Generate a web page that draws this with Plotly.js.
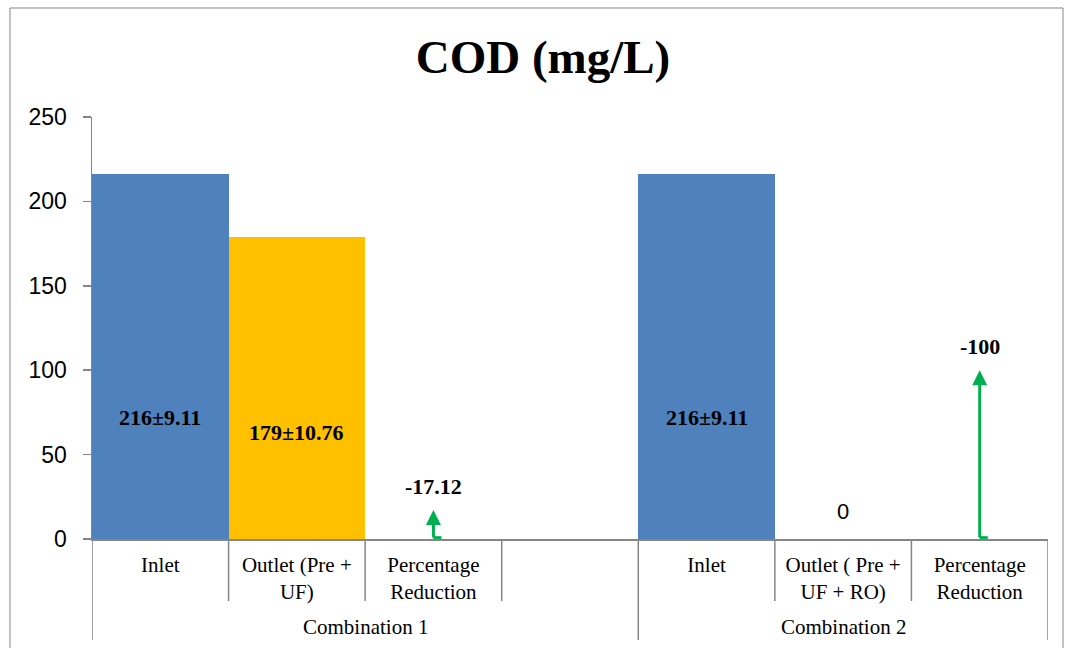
<!DOCTYPE html>
<html>
<head>
<meta charset="utf-8">
<script src="https://cdn.plot.ly/plotly-3.0.1.min.js"></script>
<style>
html,body{margin:0;padding:0;background:#fff;}
#chart{width:1074px;height:648px;}
</style>
</head>
<body>
<div id="chart"></div>
<script>
// ---- data ----
const groups = ["Combination 1", "Combination 2"];
const subcats = [
  ["Inlet", "Outlet (Pre +<br>UF)", "Percentage<br>Reduction", ""],
  ["Inlet", "Outlet ( Pre +<br>UF + RO)", "Percentage<br>Reduction"]
];
const inletValues = [216, 216];
const outletValues = [179, 0];
const reductionValues = [17.12, 100];
const inletLabels = ["216±9.11", "216±9.11"];
const outletLabels = ["179±10.76", "0"];
const reductionLabels = ["-17.12", "-100"];
const inletLabelY = [72, 72];
const outletLabelY = [63, 16];
const yTicks = [0, 50, 100, 150, 200, 250];

// ---- positions ----
const tickvals = [], ticktext = [], groupStart = [];
let idx = 0;
subcats.forEach((g) => { groupStart.push(idx); g.forEach(c => { tickvals.push(idx); ticktext.push(c); idx++; }); });
const nCats = idx;
const inletX = groupStart.map(s => s);
const outletX = groupStart.map(s => s + 1);
const reductionX = groupStart.map(s => s + 2);

const BLUE = "#4F81BD", ORANGE = "#FFC000", GREEN = "#00B050", GREY = "#868686";
const serif = "Liberation Serif, Times New Roman, serif";
const sans = "Liberation Sans, Arial, sans-serif";

const traces = [
  {type: "bar", x: inletX, y: inletValues, width: 1, marker: {color: BLUE}, hoverinfo: "skip"},
  {type: "bar", x: outletX, y: outletValues, width: 1, marker: {color: ORANGE}, hoverinfo: "skip"}
];

const annotations = [];
inletX.forEach((x, i) => annotations.push({x: x, y: inletLabelY[i], xref: "x", yref: "y", text: "<b>" + inletLabels[i] + "</b>", showarrow: false, font: {family: serif, size: 22, color: "#000"}}));
outletX.forEach((x, i) => {
  const zero = outletValues[i] === 0;
  annotations.push({x: x, y: outletLabelY[i], xref: "x", yref: "y", text: zero ? outletLabels[i] : "<b>" + outletLabels[i] + "</b>", showarrow: false, font: {family: zero ? sans : serif, size: zero ? 22 : 22, color: "#000"}});
});
reductionX.forEach((x, i) => {
  annotations.push({x: x, y: reductionValues[i], ax: x, ay: 0, xref: "x", yref: "y", axref: "x", ayref: "y", text: "", showarrow: true, arrowhead: 2, arrowsize: 1, arrowwidth: 3, arrowcolor: GREEN, standoff: 0, startstandoff: 0});
  annotations.push({x: x, y: reductionValues[i], xref: "x", yref: "y", text: "<b>" + reductionLabels[i] + "</b>", showarrow: false, yshift: 24, font: {family: serif, size: 22, color: "#000"}});
});
groups.forEach((g, i) => {
  const s = groupStart[i], e = s + subcats[i].length - 1;
  annotations.push({x: (s + e) / 2, y: -0.2085, xref: "x", yref: "paper", text: g, showarrow: false, yanchor: "middle", font: {family: serif, size: 21, color: "#000"}});
});

const shapes = [];
// dividers
for (let b = 0; b <= nCats; b++) {
  const pos = b - 0.5;
  const isGroupEdge = b === 0 || b === nCats || groupStart.includes(b);
  shapes.push({type: "line", xref: "x", yref: "paper", x0: pos, x1: pos, y0: 0, y1: isGroupEdge ? -0.2393 : -0.147, line: {color: GREY, width: 1.5}});
}
// arrow feet
reductionX.forEach((x) => shapes.push({type: "line", xref: "x", yref: "y", xsizemode: "pixel", xanchor: x, x0: 0, x1: 8, y0: 0.8, y1: 0.8, line: {color: GREEN, width: 3}}));
// outer frame
shapes.push({type: "rect", xref: "paper", yref: "paper", x0: -0.0858, x1: 1.0157, y0: -0.27, y1: 1.2583, line: {color: GREY, width: 1}, fillcolor: "rgba(0,0,0,0)", layer: "below"});

const layout = {
  width: 1074, height: 648,
  margin: {l: 92, r: 26, t: 117, b: 109, pad: 0},
  paper_bgcolor: "#fff", plot_bgcolor: "#fff",
  showlegend: false,
  bargap: 0,
  title: {text: "<b>COD (mg/L)</b>", font: {family: serif, size: 47, color: "#000"}, x: 0.5056, xref: "container", xanchor: "center", y: 0.912, yref: "container", yanchor: "middle"},
  xaxis: {range: [-0.5, nCats - 0.5], tickmode: "array", tickvals: tickvals, ticktext: ticktext, ticks: "", showgrid: false, zeroline: false, showline: true, linecolor: GREY, linewidth: 1.5, tickfont: {family: serif, size: 21, color: "#000"}, ticklabelstandoff: 6, fixedrange: true},
  yaxis: {range: [0, 250], tickmode: "array", tickvals: yTicks, ticks: "outside", ticklen: 8, tickcolor: GREY, tickwidth: 1.5, showgrid: false, zeroline: false, showline: true, linecolor: GREY, linewidth: 1.5, tickfont: {family: sans, size: 23, color: "#000"}, ticklabelstandoff: 11, fixedrange: true},
  annotations: annotations,
  shapes: shapes
};

Plotly.newPlot("chart", traces, layout, {displayModeBar: false, staticPlot: true});
</script>
</body>
</html>
